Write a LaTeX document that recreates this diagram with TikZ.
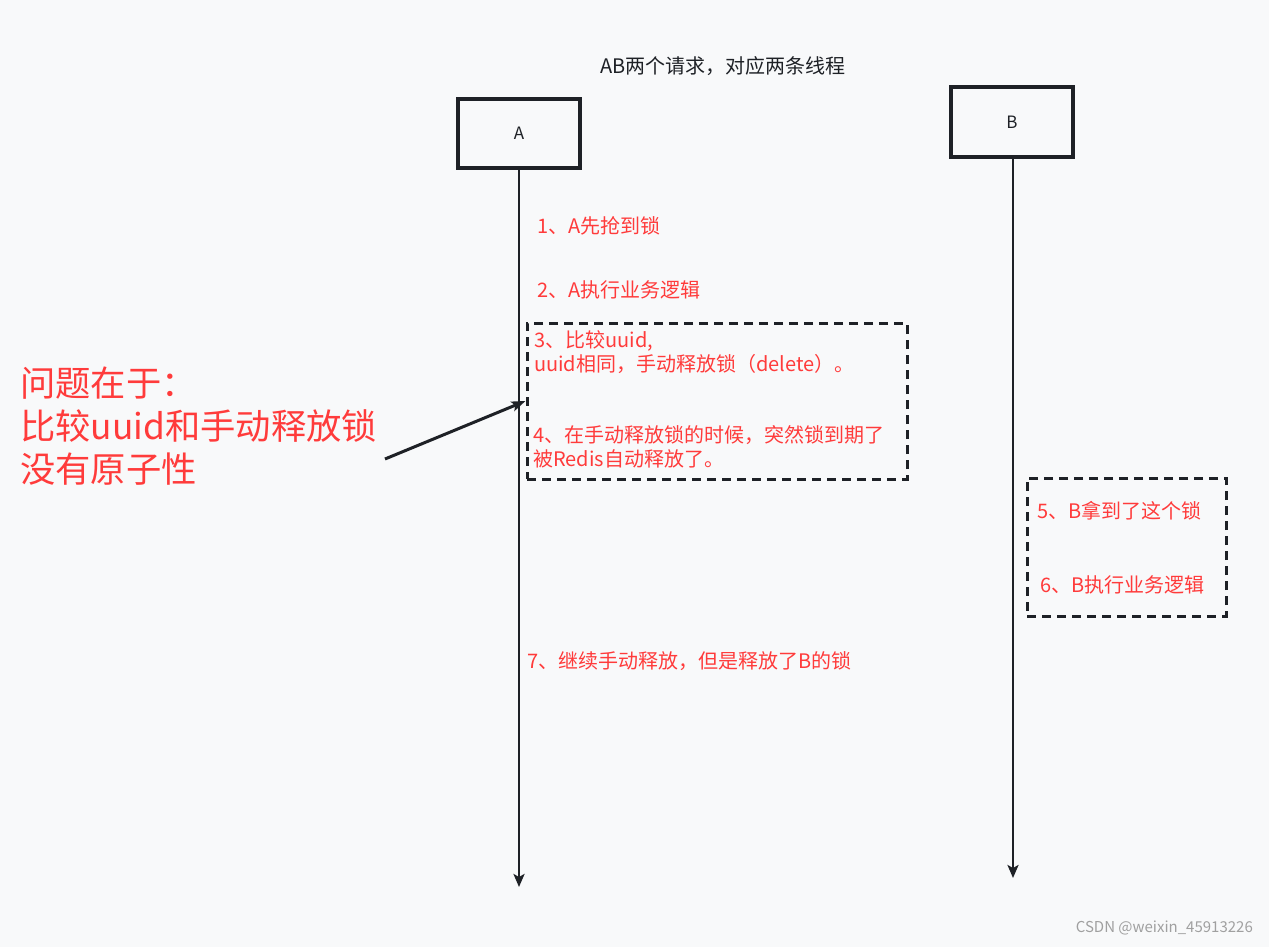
\documentclass[tikz,border=0pt]{standalone}
\usepackage{fontspec}
\setmainfont{Noto Sans CJK SC}
\usetikzlibrary{arrows.meta}
\definecolor{bg}{HTML}{F8F9FA}
\definecolor{ink}{HTML}{1E2126}
\definecolor{redt}{HTML}{FF3B3B}
\definecolor{wm}{HTML}{A0A0A0}
\tikzset{
  actor/.style={draw=ink, line width=3.2pt, minimum width=122pt, minimum height=69pt, inner sep=0pt, font=\fontsize{17}{20}\selectfont, text=ink},
  life/.style={draw=ink, line width=2.5pt, -{Stealth[length=13pt,width=11pt,inset=3pt]}},
  dashbox/.style={draw=ink, line width=3pt, dash pattern=on 9pt off 6pt, inner sep=0pt},
  note/.style={text=redt, font=\fontsize{20}{24}\selectfont, anchor=west, inner sep=0pt, align=left},
  bignote/.style={text=redt, font=\fontsize{35.3}{43}\selectfont, anchor=west, inner sep=0pt, align=left},
  pointer/.style={draw=ink, line width=3pt, -{Stealth[length=14pt,width=10pt,inset=3pt]}}
}
\begin{document}
\begin{tikzpicture}[x=1pt,y=-1pt]
\fill[bg] (0,0) rectangle (1269,947);
\useasboundingbox (0,0) rectangle (1269,947);

\node[anchor=west, inner sep=0pt, text=ink, font=\fontsize{20}{24}\selectfont] (title) at (600,66) {AB两个请求，对应两条线程};

\node[actor] (A) at (519,133.5) {A};
\node[actor, minimum height=70pt] (B) at (1012,122) {B};

\coordinate (Aend) at (519,887);
\coordinate (Bend) at (1013,878);
\draw[life] (A.south) -- (Aend);
\draw[life] (B.south -| Bend) -- (Bend);

\node[note] (t1) at (537,226) {1、A先抢到锁};
\node[note] (t2) at (537,290) {2、A执行业务逻辑};

\node[dashbox, minimum width=380pt, minimum height=156pt] (box1) at (717,401) {};
\node[note] (t3) at (534,352) {3、比较uuid,\\uuid相同，手动释放锁（delete）。};
\node[note] (t4) at (533,447) {4、在手动释放锁的时候，突然锁到期了\\被Redis自动释放了。};

\node[dashbox, minimum width=199pt, minimum height=138pt] (box2) at (1126.5,547) {};
\node[note] (t5) at (1037,511) {5、B拿到了这个锁};
\node[note] (t6) at (1040,585) {6、B执行业务逻辑};

\node[note] (t7) at (527,661) {7、继续手动释放，但是释放了B的锁};

\node[bignote] (big) at (20,426) {问题在于：\\比较uuid和手动释放锁\\没有原子性};
\coordinate (ptail) at (385,459);
\draw[pointer] (ptail) -- (box1.west);

\node[anchor=east, inner sep=0pt, text=wm, font=\fontsize{15}{18}\selectfont] (wm) at (1253,928) {CSDN @weixin\_45913226};
\end{tikzpicture}
\end{document}
